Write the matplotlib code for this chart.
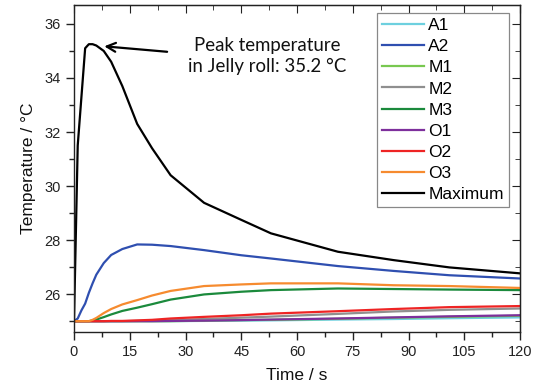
import matplotlib
matplotlib.use("Agg")
import matplotlib.pyplot as plt
from matplotlib.ticker import MultipleLocator

plt.rcParams['font.family'] = ['Liberation Sans', 'DejaVu Sans']

time_s = [0, 1, 2, 3, 4, 5, 6, 8, 10, 13, 17, 21, 26, 35, 45, 53, 71, 86, 101, 120]

A1 = [25, 25, 25, 25, 25, 25, 25, 25, 25, 25, 25, 25, 25, 25.01, 25.02, 25.03, 25.06, 25.08, 25.11, 25.14]
A2 = [25.0, 25.1, 25.4, 25.65, 26.05, 26.4, 26.72, 27.15, 27.45, 27.67, 27.84, 27.83, 27.78, 27.63, 27.44, 27.32, 27.04, 26.86, 26.7, 26.58]
M1 = [25, 25, 25, 25, 25, 25, 25, 25, 25, 25, 25, 25, 25, 25.02, 25.04, 25.05, 25.09, 25.13, 25.16, 25.2]
M2 = [25, 25, 25, 25, 25, 25, 25, 25, 25, 25, 25.01, 25.02, 25.04, 25.08, 25.13, 25.17, 25.27, 25.36, 25.42, 25.47]
M3 = [25, 25, 25, 25, 25, 25.03, 25.06, 25.15, 25.25, 25.38, 25.5, 25.63, 25.8, 25.99, 26.09, 26.15, 26.21, 26.19, 26.17, 26.15]
O1 = [25, 25, 25, 25, 25, 25, 25, 25, 25, 25, 25, 25, 25.01, 25.02, 25.04, 25.06, 25.1, 25.14, 25.18, 25.22]
O2 = [25, 25, 25, 25, 25, 25, 25, 25, 25.01, 25.01, 25.03, 25.05, 25.1, 25.16, 25.22, 25.28, 25.37, 25.45, 25.52, 25.56]
O3 = [25, 25, 25, 25, 25.0, 25.05, 25.12, 25.3, 25.45, 25.62, 25.78, 25.95, 26.12, 26.3, 26.36, 26.4, 26.4, 26.33, 26.3, 26.23]
Maximum = [25, 31.5, 33.3, 35.1, 35.25, 35.25, 35.2, 35.0, 34.6, 33.7, 32.3, 31.4, 30.4, 29.38, 28.75, 28.25, 27.57, 27.26, 26.99, 26.77]

series_names = ['A1', 'A2', 'M1', 'M2', 'M3', 'O1', 'O2', 'O3', 'Maximum']
series_values = [A1, A2, M1, M2, M3, O1, O2, O3, Maximum]
colors = ['#6dd0df', '#2f4fb0', '#78c850', '#8f8f8f', '#1b8a3c', '#7e2f9c', '#ee2424', '#f68b2f', '#000000']

fig = plt.figure(figsize=(5.38, 3.83), dpi=100)
ax = fig.add_axes([74/538, 1-332/383, (520-74)/538, (332-5)/383])

for name, vals, c in zip(series_names, series_values, colors):
    ax.plot(time_s, vals, color=c, lw=1.6, label=name)

ax.set_xlim(0, 120)
ax.set_ylim(24.6, 36.7)
ax.xaxis.set_major_locator(MultipleLocator(15))
ax.xaxis.set_minor_locator(MultipleLocator(7.5))
ax.yaxis.set_major_locator(MultipleLocator(2))
ax.yaxis.set_minor_locator(MultipleLocator(1))
ax.set_yticks([26, 28, 30, 32, 34, 36])

ax.tick_params(which='both', direction='out', top=False, right=False, labelsize=10.5, colors='#222222', width=1)
ax.tick_params(which='major', length=6)
ax.tick_params(which='minor', length=3.5)

# mirrored inward ticks on top and right
axt = ax.secondary_xaxis('top')
axt.xaxis.set_major_locator(MultipleLocator(15))
axt.xaxis.set_minor_locator(MultipleLocator(7.5))
axt.tick_params(which='both', direction='in', labeltop=False, color='#222222')
axt.tick_params(which='major', length=6)
axt.tick_params(which='minor', length=3.5)
axr = ax.secondary_yaxis('right')
axr.yaxis.set_major_locator(MultipleLocator(2))
axr.yaxis.set_minor_locator(MultipleLocator(1))
axr.tick_params(which='both', direction='in', labelright=False, color='#222222')
axr.tick_params(which='major', length=6)
axr.tick_params(which='minor', length=3.5)

for s in ax.spines.values():
    s.set_color('#222222')
    s.set_linewidth(1)

ax.set_xlabel('Time / s', fontsize=12.5, color='#111111', labelpad=6)
ax.set_ylabel('Temperature / °C', fontsize=12.5, color='#111111', labelpad=6)

leg = ax.legend(loc='upper right', bbox_to_anchor=(0.975, 0.9755), borderaxespad=0,
                fontsize=12.5, handlelength=2.4, handletextpad=0.25, labelspacing=0.34,
                fancybox=False, framealpha=1, borderpad=0.3)
leg.get_frame().set_edgecolor('#888888')
leg.get_frame().set_linewidth(0.9)

ax.annotate('', xy=(7.4, 35.18), xytext=(25.8, 34.96),
            arrowprops=dict(arrowstyle='->', color='black', lw=1.6, mutation_scale=16))
ax.text(52, 34.8, 'Peak temperature\nin Jelly roll: 35.2 °C', ha='center', va='center',
        fontsize=13.4, family=['Lato', 'DejaVu Sans'], linespacing=1.3, color='#111111')

fig.savefig('out.png', dpi=100)
